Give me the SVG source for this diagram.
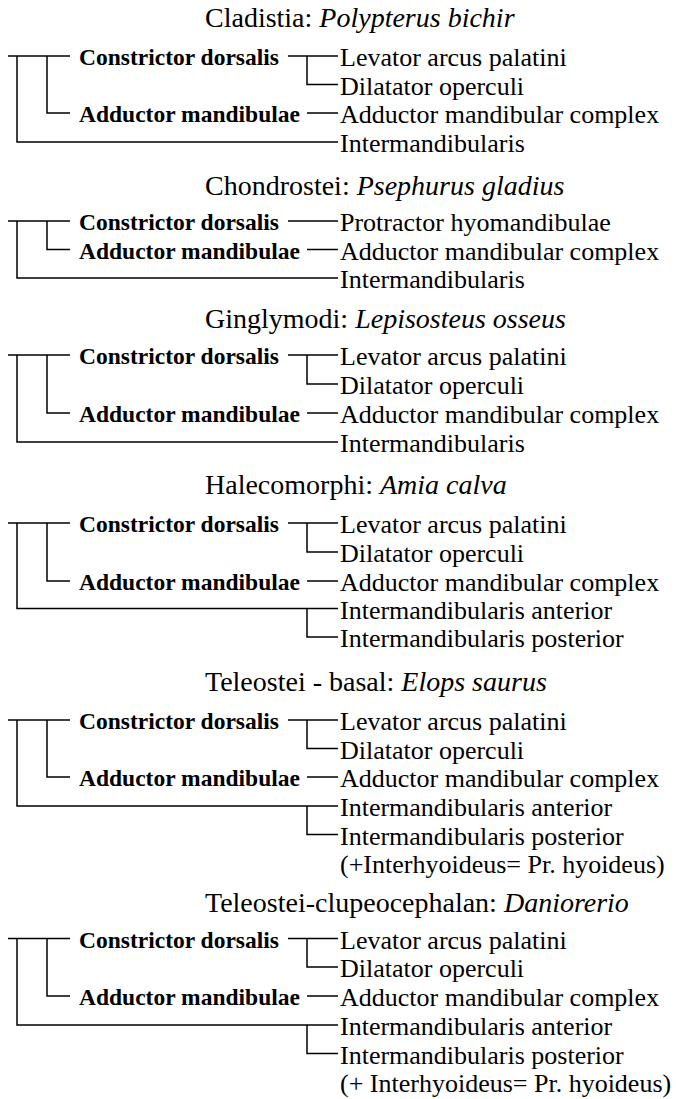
<svg xmlns="http://www.w3.org/2000/svg" width="676" height="1099" viewBox="0 0 676 1099">
<style>
.t{font-family:"Liberation Serif","Times New Roman",serif;font-size:28px;fill:#000}
.b{font-family:"Liberation Serif","Times New Roman",serif;font-size:23.5px;font-weight:bold;fill:#000}
.r{font-family:"Liberation Serif","Times New Roman",serif;font-size:26px;fill:#000}
.c path{fill:none;stroke:#000;stroke-width:1.5}
</style>
<rect width="676" height="1099" fill="#fff"/>
<g class="c" id="connectors">
<path d="M8,56H70M17,56V142H338M47,56V113H70M288,56H338M307,56V84.5H338M307,113H338"/>
<path d="M8,221H70M17,221V278H338M47,221V249.5H70M288,221H338M307,249.5H338"/>
<path d="M8,355H70M17,355V442H338M47,355V413H70M288,355H338M307,355V384H338M307,413H338"/>
<path d="M8,523H70M17,523V608.5H338M47,523V581H70M288,523H338M307,523V552H338M307,581H338M307,608.5V637H338"/>
<path d="M8,720H70M17,720V806H338M47,720V777H70M288,720H338M307,720V748.5H338M307,777H338M307,806V834.5H338"/>
<path d="M8,938.5H70M17,938.5V1025H338M47,938.5V996H70M288,938.5H338M307,938.5V967H338M307,996H338M307,1025V1053.5H338"/>
</g>
<g id="block-cladistia">
<text class="t" x="205" y="27">Cladistia: <tspan font-style="italic">Polypterus bichir</tspan></text>
<text class="b" x="79" y="65">Constrictor dorsalis</text>
<text class="b" x="79" y="122">Adductor mandibulae</text>
<text class="r" x="340" y="66">Levator arcus palatini</text>
<text class="r" x="340" y="94.5">Dilatator operculi</text>
<text class="r" x="340" y="123">Adductor mandibular complex</text>
<text class="r" x="340" y="152">Intermandibularis</text>
</g>
<g id="block-chondrostei">
<text class="t" x="205" y="195">Chondrostei: <tspan font-style="italic">Psephurus gladius</tspan></text>
<text class="b" x="79" y="230">Constrictor dorsalis</text>
<text class="b" x="79" y="258.5">Adductor mandibulae</text>
<text class="r" x="340" y="231">Protractor hyomandibulae</text>
<text class="r" x="340" y="259.5">Adductor mandibular complex</text>
<text class="r" x="340" y="288">Intermandibularis</text>
</g>
<g id="block-ginglymodi">
<text class="t" x="205" y="328">Ginglymodi: <tspan font-style="italic">Lepisosteus osseus</tspan></text>
<text class="b" x="79" y="364">Constrictor dorsalis</text>
<text class="b" x="79" y="422">Adductor mandibulae</text>
<text class="r" x="340" y="365">Levator arcus palatini</text>
<text class="r" x="340" y="394">Dilatator operculi</text>
<text class="r" x="340" y="423">Adductor mandibular complex</text>
<text class="r" x="340" y="452">Intermandibularis</text>
</g>
<g id="block-halecomorphi">
<text class="t" x="205" y="494">Halecomorphi: <tspan font-style="italic">Amia calva</tspan></text>
<text class="b" x="79" y="532">Constrictor dorsalis</text>
<text class="b" x="79" y="590">Adductor mandibulae</text>
<text class="r" x="340" y="533">Levator arcus palatini</text>
<text class="r" x="340" y="562">Dilatator operculi</text>
<text class="r" x="340" y="591">Adductor mandibular complex</text>
<text class="r" x="340" y="618.5">Intermandibularis anterior</text>
<text class="r" x="340" y="647">Intermandibularis posterior</text>
</g>
<g id="block-teleostei-basal">
<text class="t" x="205" y="691">Teleostei - basal: <tspan font-style="italic">Elops saurus</tspan></text>
<text class="b" x="79" y="729">Constrictor dorsalis</text>
<text class="b" x="79" y="786">Adductor mandibulae</text>
<text class="r" x="340" y="730">Levator arcus palatini</text>
<text class="r" x="340" y="758.5">Dilatator operculi</text>
<text class="r" x="340" y="787">Adductor mandibular complex</text>
<text class="r" x="340" y="816">Intermandibularis anterior</text>
<text class="r" x="340" y="844.5">Intermandibularis posterior</text>
<text class="r" x="340" y="873">(+Interhyoideus= Pr. hyoideus)</text>
</g>
<g id="block-teleostei-clupeocephalan">
<text class="t" x="205" y="911.5">Teleostei-clupeocephalan: <tspan font-style="italic">Daniorerio</tspan></text>
<text class="b" x="79" y="947.5">Constrictor dorsalis</text>
<text class="b" x="79" y="1005">Adductor mandibulae</text>
<text class="r" x="340" y="948.5">Levator arcus palatini</text>
<text class="r" x="340" y="977">Dilatator operculi</text>
<text class="r" x="340" y="1006">Adductor mandibular complex</text>
<text class="r" x="340" y="1035">Intermandibularis anterior</text>
<text class="r" x="340" y="1063.5">Intermandibularis posterior</text>
<text class="r" x="340" y="1092">(+ Interhyoideus= Pr. hyoideus)</text>
</g>
</svg>
